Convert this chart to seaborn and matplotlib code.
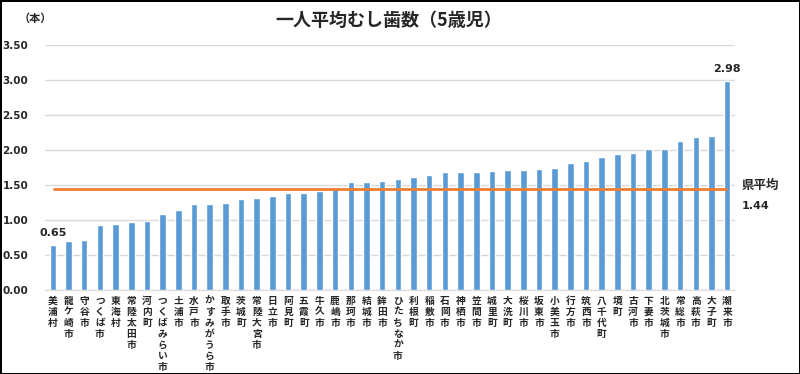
import pandas as pd
import seaborn as sns
import matplotlib.pyplot as plt

# data
cities = ['美浦村', '龍ケ崎市', '守谷市', 'つくば市', '東海村', '常陸太田市', '河内町',
          'つくばみらい市', '土浦市', '水戸市', 'かすみがうら市', '取手市', '茨城町',
          '常陸大宮市', '日立市', '阿見町', '五霞町', '牛久市', '鹿嶋市', '那珂市',
          '結城市', '鉾田市', 'ひたちなか市', '利根町', '稲敷市', '石岡市', '神栖市',
          '笠間市', '城里町', '大洗町', '桜川市', '坂東市', '小美玉市', '行方市',
          '筑西市', '八千代町', '境町', '古河市', '下妻市', '北茨城市', '常総市',
          '高萩市', '大子町', '潮来市']
caries = [0.65, 0.70, 0.72, 0.93, 0.95, 0.97, 0.99, 1.08, 1.14, 1.23, 1.23, 1.25,
          1.30, 1.31, 1.34, 1.38, 1.39, 1.42, 1.46, 1.54, 1.54, 1.56, 1.59, 1.61,
          1.64, 1.68, 1.69, 1.69, 1.70, 1.71, 1.72, 1.73, 1.74, 1.81, 1.84, 1.90,
          1.94, 1.96, 2.01, 2.02, 2.13, 2.18, 2.20, 2.98]
pref_avg = 1.44
yticks = [0, 0.5, 1.0, 1.5, 2.0, 2.5, 3.0, 3.5]

df = pd.DataFrame({'city': cities, 'caries': caries})

sns.set_style('white')
plt.rcParams['font.family'] = ['Noto Sans CJK JP', 'DejaVu Sans']

fig = plt.figure(figsize=(8, 3.74), dpi=100, edgecolor='black', linewidth=2)
ax = fig.add_axes([45 / 800, 1 - 290 / 374, 690 / 800, 245 / 374])

sns.barplot(data=df, x='city', y='caries', color='#5B9BD5', width=0.42,
            saturation=1, ax=ax, zorder=3)
ax.hlines(pref_avg, 0, len(cities) - 1, color='#ED7D31', linewidth=2, zorder=4)

ax.set_ylim(0, 3.5)
ax.set_xlim(-0.5, len(cities) - 0.5)
ax.set_yticks(yticks)
ax.set_yticklabels([f'{v:.2f}' for v in yticks], fontsize=7.5, fontweight='bold',
                   family=['DejaVu Sans'])
ax.yaxis.grid(True, color='#D9D9D9', linewidth=1, zorder=0)
ax.tick_params(axis='y', length=0, pad=12)
ax.tick_params(axis='x', length=0, pad=4)
ax.set_xticks(range(len(cities)))
ax.set_xticklabels(['\n'.join(c) for c in cities], fontsize=7, fontweight='bold',
                   linespacing=1.13, va='top')
ax.set_xlabel('')
ax.set_ylabel('')
for s in ['top', 'right', 'left']:
    ax.spines[s].set_visible(False)
ax.spines['bottom'].set_color('#D9D9D9')

# value labels on the first and last bars
for i in [0, len(cities) - 1]:
    ax.text(i, caries[i] + 0.1, f'{caries[i]:.2f}', ha='center', va='bottom',
            fontsize=8, fontweight='bold', family=['DejaVu Sans'])

fig.text(742 / 800, 1 - 185 / 374, '県平均', fontsize=9, fontweight='bold',
         va='center', ha='left')
fig.text(742 / 800, 1 - 206 / 374, f'{pref_avg:.2f}', fontsize=8, fontweight='bold',
         va='center', ha='left', family=['DejaVu Sans'])
fig.text(389 / 800, 1 - 20 / 374, '一人平均むし歯数（5歳児）', fontsize=13,
         fontweight='bold', ha='center', va='center')
fig.text(35 / 800, 1 - 18 / 374, '（本）', fontsize=8, fontweight='bold',
         ha='center', va='center')

fig.savefig('out.png', dpi=100)
